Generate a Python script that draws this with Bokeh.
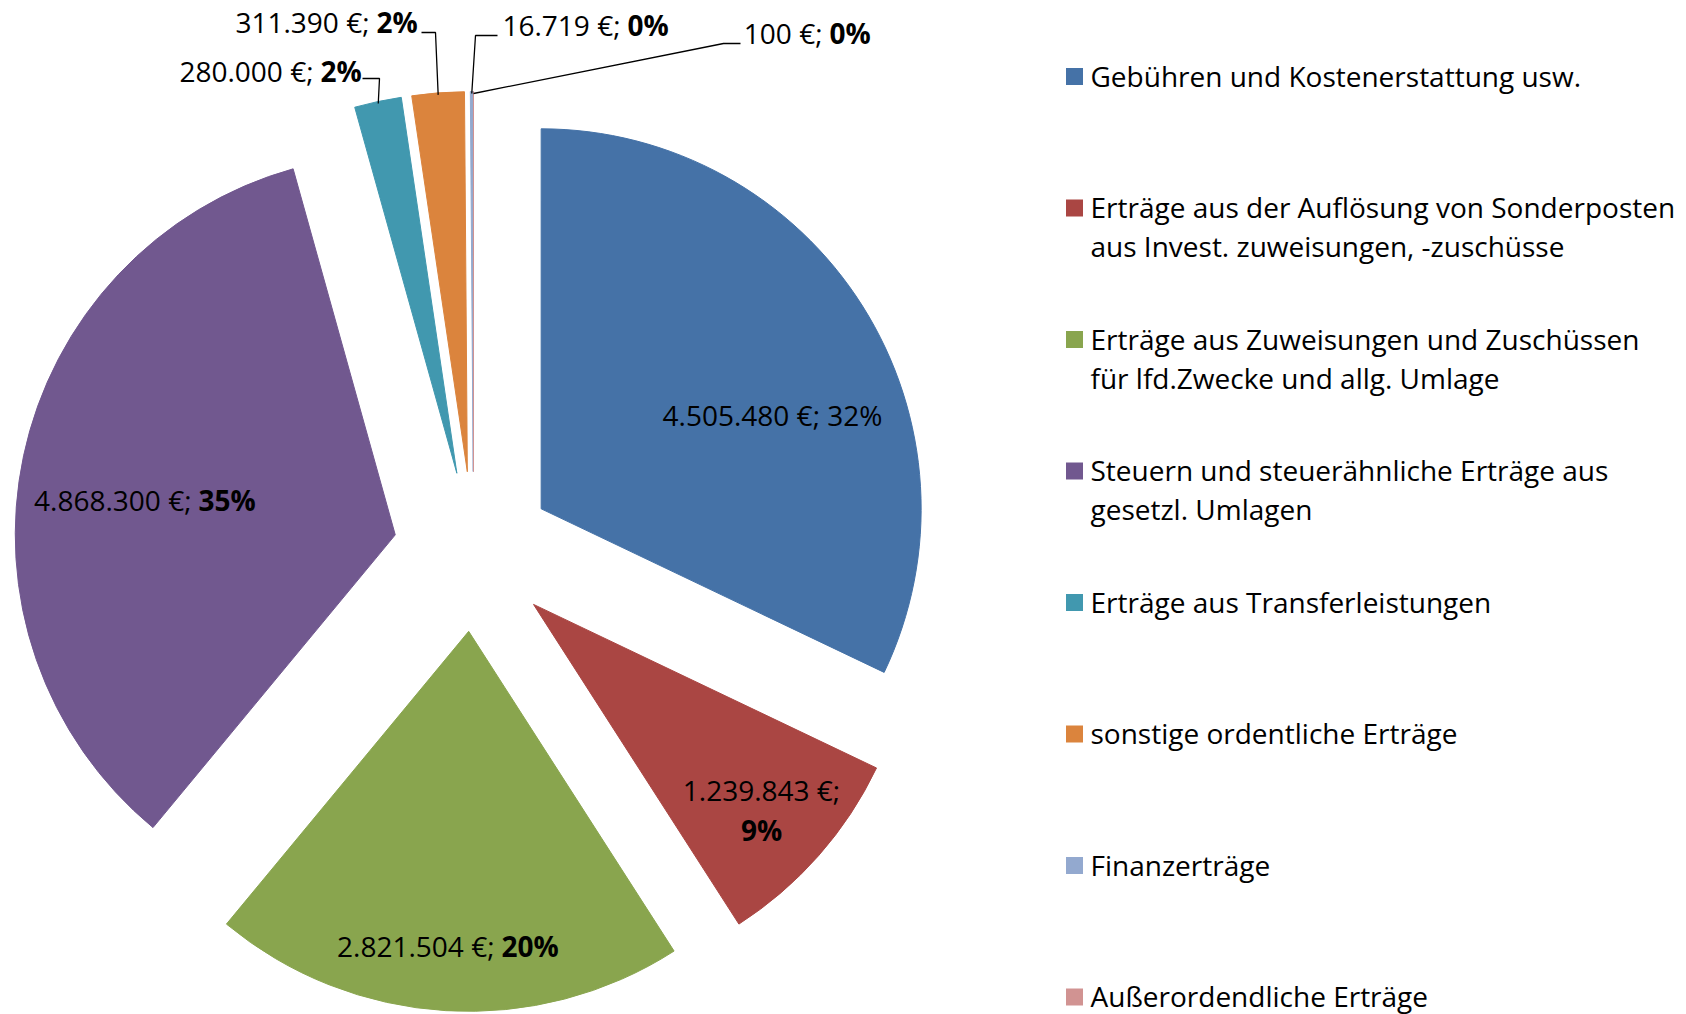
import math
from bokeh.plotting import figure
from bokeh.models import Range1d
from bokeh.embed import file_html
from bokeh.resources import INLINE
from bokeh.core.properties import value

# ---------------- data ----------------
categories = [
    "Gebühren und Kostenerstattung usw.",
    "Erträge aus der Auflösung von Sonderposten\naus Invest. zuweisungen, -zuschüsse",
    "Erträge aus Zuweisungen und Zuschüssen\nfür lfd.Zwecke und allg. Umlage",
    "Steuern und steuerähnliche Erträge aus\ngesetzl. Umlagen",
    "Erträge aus Transferleistungen",
    "sonstige ordentliche Erträge",
    "Finanzerträge",
    "Außerordendliche Erträge",
]
values = [4505480, 1239843, 2821504, 4868300, 280000, 311390, 16719, 100]
amount_labels = ["4.505.480 €", "1.239.843 €", "2.821.504 €", "4.868.300 €",
                 "280.000 €", "311.390 €", "16.719 €", "100 €"]
percent_labels = ["32%", "9%", "20%", "35%", "2%", "2%", "0%", "0%"]
colors = ["#4572A7", "#AA4643", "#89A54E", "#71588F",
          "#4198AF", "#DB843D", "#93A9CF", "#D19392"]

# ---------------- layout ----------------
W, H = 1686, 1014
CX, CY = 473, 551          # pie centre (screen px)
R = 380
EXPLODE = 80
FONT = value("Open Sans")
FS = "28px"


def sy(y):
    return H - y


p = figure(width=W, height=H, x_range=Range1d(0, W), y_range=Range1d(0, H),
           output_backend="svg", toolbar_location=None,
           x_axis_location=None, y_axis_location=None, min_border=0)
p.grid.visible = False
p.outline_line_color = None
p.background_fill_color = "white"

total = float(sum(values))
cum = 0.0
wx, wy, sa, ea, mids = [], [], [], [], []
for v in values:
    f0 = cum / total
    f1 = (cum + v) / total
    fm = (f0 + f1) / 2
    cum += v
    a0 = math.pi / 2 - 2 * math.pi * f0
    a1 = math.pi / 2 - 2 * math.pi * f1
    am = math.pi / 2 - 2 * math.pi * fm
    sa.append(a0)
    ea.append(a1)
    mids.append(am)
    wx.append(CX + EXPLODE * math.cos(am))
    wy.append(sy(CY) + EXPLODE * math.sin(am))

p.wedge(x=wx, y=wy, radius=R, start_angle=sa, end_angle=ea, direction="clock",
        fill_color=colors, line_color=colors, line_width=1)

# ---------------- data labels ----------------
def txt(x, y, t, align="left", bold=False):
    p.text(x=[x], y=[sy(y)], text=[t], text_font=FONT, text_font_size=FS,
           text_align=align, text_baseline="middle", text_color="black",
           text_font_style="bold" if bold else "normal")

# blue: plain, centred
txt(772, 414, f"{amount_labels[0]}; {percent_labels[0]}", align="center")
# red: two lines
txt(761, 789, f"{amount_labels[1]};", align="center")
txt(761, 829, percent_labels[1], align="center", bold=True)

# others: normal part right-aligned, bold percent left-aligned at split
split_pos = {2: (501, 945), 3: (198, 499), 4: (320, 70), 5: (376, 21),
             6: (627, 24), 7: (829, 32)}
for i, (xs, ys) in split_pos.items():
    txt(xs - 7, ys, f"{amount_labels[i]};", align="right")
    txt(xs, ys, percent_labels[i], bold=True)

# leader lines for small slices
elbows = {4: (379, 78), 5: (435, 32), 6: (475, 35), 7: (723, 43)}
ends = {4: (362, 78), 5: (421, 32), 6: (497, 35), 7: (740, 43)}
for i in elbows:
    ox = wx[i] + (R - 2) * math.cos(mids[i])
    oy = wy[i] + (R - 2) * math.sin(mids[i])
    ex, ey = elbows[i]
    nx, ny = ends[i]
    p.line(x=[ox, ex, nx], y=[oy, sy(ey), sy(ny)], line_color="black", line_width=1.3)

# ---------------- legend ----------------
LX_SQ, LX_TXT = 1074, 1090
LY0, LSTEP, LLINE = 75, 131.5, 39
for k, (lab, col) in enumerate(zip(categories, colors)):
    y0 = LY0 + k * LSTEP
    p.rect(x=[LX_SQ], y=[sy(y0 + 1)], width=17, height=17, fill_color=col, line_color=None)
    for j, line in enumerate(lab.split("\n")):
        txt(LX_TXT, y0 + j * LLINE, line)

open("out.html", "w").write(file_html(p, INLINE))
